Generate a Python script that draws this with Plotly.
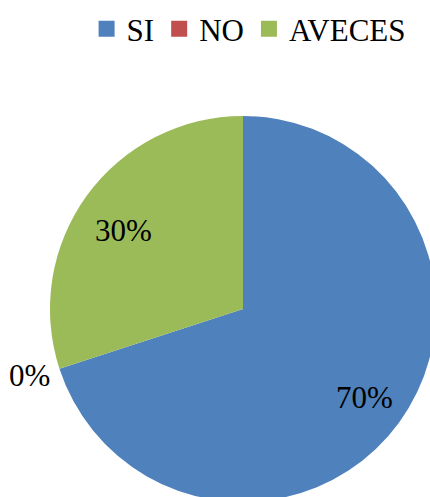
import math
import plotly.graph_objects as go

categories = ["SI", "NO", "AVECES"]
values = [70, 0, 30]
colors = ["#4F81BD", "#C0504D", "#9BBB59"]

W, H = 440, 512
cx, cy, r = 243, 309, 193  # pie centre and radius in pixels
FONT = "Liberation Serif"
# radial distance (fraction of radius) and pixel nudge for each percentage label
label_dist = [0.78, 1.165, 0.75]
label_nudge = [(0, 0), (0, -3), (-2, 7)]

fig = go.Figure()
fig.add_trace(go.Pie(
    labels=categories,
    values=values,
    sort=False,
    direction="clockwise",
    rotation=0,
    marker=dict(colors=colors, line=dict(width=0)),
    textinfo="none",
    hoverinfo="label+percent",
    showlegend=False,
    domain=dict(x=[(cx - r) / W, (cx + r) / W],
                y=[(H - cy - r) / H, (H - cy + r) / H]),
))

# percentage labels placed along each slice's mid-angle
total = sum(values)
cum = 0
for v, d, (nx, ny) in zip(values, label_dist, label_nudge):
    mid = (cum + v / 2) / total * 2 * math.pi
    cum += v
    px = cx + d * r * math.sin(mid) + nx
    py = cy - d * r * math.cos(mid) + ny
    fig.add_annotation(x=px / W, y=1 - py / H, xref="paper", yref="paper",
                       text=f"{round(100 * v / total)}%", showarrow=False,
                       xanchor="center", yanchor="middle",
                       font=dict(family=FONT, size=31, color="black"))

# legend entries as square markers
for name, col in zip(categories, colors):
    fig.add_trace(go.Scatter(x=[None], y=[None], mode="markers", name=name,
                             marker=dict(symbol="square", size=22, color=col)))

fig.update_layout(
    width=W, height=H,
    margin=dict(l=0, r=0, t=0, b=0),
    paper_bgcolor="white", plot_bgcolor="white",
    xaxis=dict(visible=False), yaxis=dict(visible=False),
    legend=dict(orientation="h", x=0.565, xanchor="center", y=1 - 29 / H, yanchor="middle",
                font=dict(family=FONT, size=31, color="black"),
                itemwidth=30, itemsizing="trace", tracegroupgap=0),
)

fig.write_html("out.html", post_script="document.documentElement.style.overflow='hidden';document.body.style.overflow='hidden';")
